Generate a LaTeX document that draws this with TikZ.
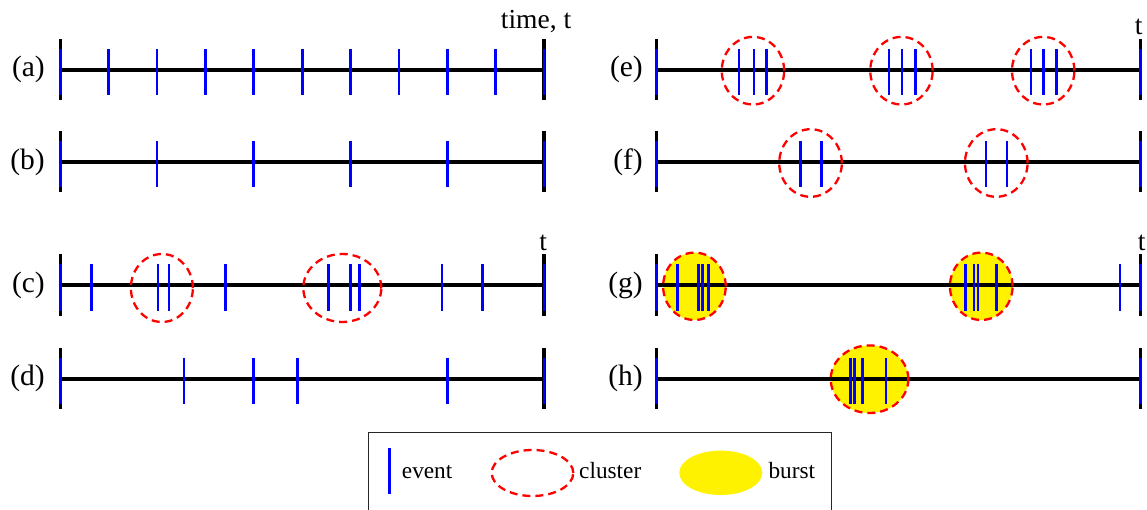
\documentclass[tikz,border=0pt]{standalone}
\usepackage{fontspec}
\setmainfont{Liberation Serif}
\begin{document}
\begin{tikzpicture}[x=1pt,y=-1pt,
  axisline/.style={line width=3.7pt,black},
  endbar/.style={line width=3.4pt,black},
  evt/.style={line width=2.7pt,blue},
  clus/.style={red,line width=2.3pt,dash pattern=on 8pt off 5pt},
  burst/.style={fill=yellow},
  row/.style 2 args={shift={(#1,#2)},x=48.37pt},
  lbl/.style={font=\fontsize{29.5}{34}\selectfont,inner sep=0pt,anchor=east},
  ttl/.style={font=\fontsize{27.5}{32}\selectfont,inner sep=0pt},
  leg/.style={font=\fontsize{23.3}{28}\selectfont,inner sep=0pt,anchor=base west}]
\clip (0,0) rectangle (1147,510);
\newcommand\timeaxis{%
  \draw[axisline] (0,0) -- (10,0);
  \draw[endbar] (0,-30.5) -- (0,30.5) (10,-30.5) -- (10,30.5);}
\newcommand\events[1]{\foreach \p in {#1} \draw[evt] (\p,-20.5) -- (\p,25.5);}

% ---------- left column ----------
\begin{scope}[row={60.3}{69.7}]
  \timeaxis
  \events{0,1,...,10}
\end{scope}
\begin{scope}[row={60.3}{162}]
  \timeaxis
  \events{0,2,4,6,8,10}
\end{scope}
\begin{scope}[row={60.3}{285}]
  \timeaxis
  \draw[clus] (2.10,3) ellipse [x radius=31pt,y radius=34pt];
  \draw[clus] (5.83,3) ellipse [x radius=39pt,y radius=34pt];
  \events{0,0.65,2.02,2.25,3.41,5.54,6.0,6.18,7.89,8.73,10}
\end{scope}
\begin{scope}[row={60.3}{378.7}]
  \timeaxis
  \events{0,2.56,4.0,4.91,8.0,10}
\end{scope}

% ---------- right column ----------
\begin{scope}[row={656.7}{69.7}]
  \timeaxis
  \foreach \c in {1.99,5.06,7.99}
    \draw[clus] (\c,1) ellipse [x radius=31.2pt,y radius=33.8pt];
  \events{0,1.70,2.01,2.27,4.80,5.07,5.35,7.74,8.0,8.26,10}
\end{scope}
\begin{scope}[row={656.7}{162}]
  \timeaxis
  \foreach \c in {3.18,7.02}
    \draw[clus] (\c,1) ellipse [x radius=31.3pt,y radius=33.8pt];
  \events{0,2.97,3.40,6.81,7.24,10}
\end{scope}
\begin{scope}[row={656.7}{285}]
  \foreach \c in {0.78,6.71}
    \fill[burst] (\c,1.3) ellipse [x radius=31.3pt,y radius=33.7pt];
  \timeaxis
  \foreach \c in {0.78,6.71}
    \draw[clus] (\c,1.3) ellipse [x radius=31.3pt,y radius=33.7pt];
  \events{0,0.43,0.86,0.94,1.07,6.38,6.56,6.64,7.03,9.58,10}
\end{scope}
\begin{scope}[row={656.7}{378.7}]
  \fill[burst] (4.40,0.5) ellipse [x radius=38.8pt,y radius=33.8pt];
  \timeaxis
  \draw[clus] (4.40,0.5) ellipse [x radius=38.8pt,y radius=33.8pt];
  \events{0,4.01,4.09,4.26,4.74,10}
\end{scope}

% ---------- row labels ----------
\node[lbl] (la) at (45,69.7) {(a)};
\node[lbl] (lb) at (45,162) {(b)};
\node[lbl] (lc) at (45,285) {(c)};
\node[lbl] (ld) at (45,378.7) {(d)};
\node[lbl] (le) at (643,69.7) {(e)};
\node[lbl] (lf) at (643,162) {(f)};
\node[lbl] (lg) at (643,285) {(g)};
\node[lbl] (lh) at (643,378.7) {(h)};

% ---------- time labels ----------
\node[ttl,anchor=base west] (time) at (500.7,28.3) {time, t};
\node[ttl,anchor=base] (tE) at (1138.6,34.3) {t};
\node[ttl,anchor=base] (tC) at (543.3,250.7) {t};
\node[ttl,anchor=base] (tG) at (1141.7,250.7) {t};

% ---------- legend ----------
\draw[line width=1.3pt,black!85] (368.3,432.7) rectangle (831.3,530);
\draw[evt] (389.3,448.3) -- (389.3,494);
\node[leg] (levent) at (401.7,478.3) {event};
\draw[clus] (532.5,473) ellipse [x radius=40.8pt,y radius=23pt];
\node[leg] (lcluster) at (579,478.3) {cluster};
\fill[burst] (720.8,472.8) ellipse [x radius=41.5pt,y radius=22.2pt];
\node[leg] (lburst) at (768.3,478.3) {burst};
\end{tikzpicture}
\end{document}
